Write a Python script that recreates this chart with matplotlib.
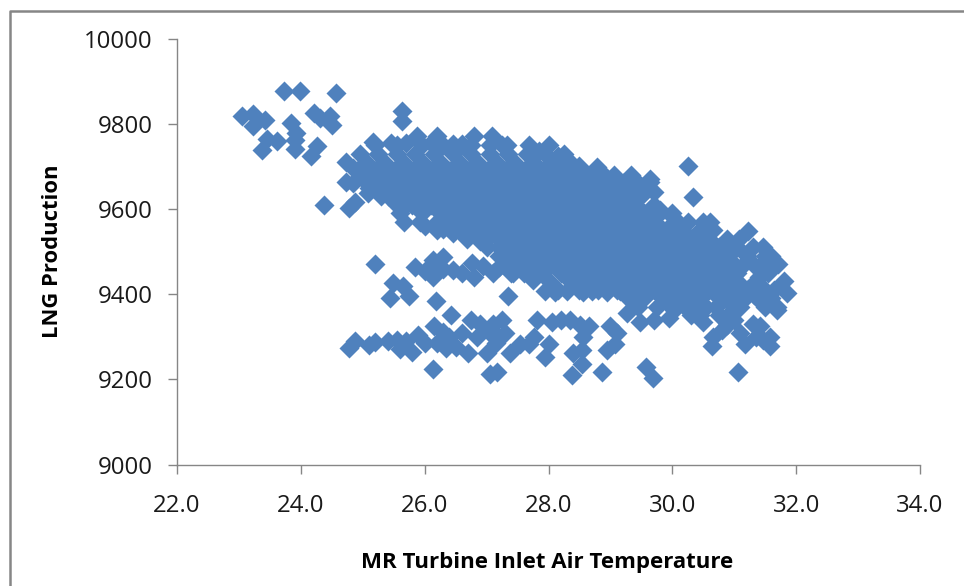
import matplotlib
matplotlib.use("Agg")
import matplotlib.pyplot as plt
from matplotlib.lines import Line2D

plt.rcParams['font.family'] = ['Open Sans', 'DejaVu Sans']

# points that can be read one by one
temp_single = [23.73, 23.99, 24.56, 23.05, 23.22, 23.42, 23.23, 23.46, 23.62, 23.38, 23.84, 23.93, 23.91, 23.91,
               24.26, 24.17, 24.22, 24.31, 24.47, 24.50, 25.64, 25.64, 24.73, 24.38, 24.77, 24.88,
               25.20, 25.84, 25.49, 25.65, 25.44, 25.75, 26.18, 26.43, 27.34, 26.14, 27.06, 27.17,
               30.26, 30.34, 31.23, 31.85, 31.06, 29.57, 29.68, 28.87, 28.38]
lng_single = [9877, 9877, 9871, 9818, 9822, 9809, 9795, 9763, 9760, 9738, 9802, 9777, 9762, 9741,
              9748, 9725, 9826, 9813, 9817, 9797, 9830, 9806, 9664, 9609, 9601, 9617,
              9471, 9463, 9425, 9419, 9392, 9396, 9384, 9351, 9396, 9224, 9213, 9216,
              9701, 9629, 9547, 9402, 9218, 9228, 9202, 9218, 9209]

# lower band, around 9300
temp_low = [24.77, 24.87, 25.1, 25.2, 25.4, 25.55, 25.6, 25.8, 25.7, 25.9, 26.0, 26.15, 26.2, 26.35, 26.4, 26.75,
            26.7, 26.85, 27.0, 26.6, 27.05, 27.25, 27.3, 27.15, 27.38, 26.5, 26.9, 27.1, 26.3, 27.2,
            27.54, 27.68, 27.76, 27.95, 28.0, 27.81, 28.05, 28.2, 28.35, 28.51, 28.65, 28.39, 28.54, 28.54, 28.56,
            29.0, 29.1, 29.08, 28.94, 29.26, 29.48, 29.7, 30.02, 30.5, 30.64, 30.66, 30.8, 30.88, 31.1, 31.17,
            31.42, 31.47, 31.58, 31.58, 31.69]
lng_low = [9273, 9291, 9281, 9288, 9290, 9292, 9270, 9265, 9290, 9305, 9285, 9325, 9285, 9273, 9300, 9340,
           9262, 9300, 9262, 9308, 9308, 9340, 9308, 9285, 9261, 9275, 9330, 9330, 9310, 9300,
           9284, 9284, 9300, 9253, 9284, 9339, 9335, 9340, 9339, 9327, 9324, 9261, 9237, 9269, 9300,
           9324, 9308, 9284, 9269, 9355, 9335, 9339, 9363, 9335, 9278, 9300, 9315, 9327, 9308, 9284,
           9324, 9292, 9277, 9300, 9363]

# middle band, left of the main cloud
temp_mid = [26.14, 26.3, 26.14, 26.46, 26.76, 26.79, 27.1, 27.43, 27.2, 27.54, 26.3, 26.6, 26.95, 27.28, 26.0]
lng_mid = [9441, 9488, 9480, 9457, 9472, 9441, 9449, 9449, 9464, 9464, 9460, 9450, 9465, 9470, 9455]

# main cloud: the inside is solid blue, so these are estimates per level
cloud_levels = [9770, 9750, 9730, 9710, 9690, 9670, 9650, 9630, 9610, 9590, 9570,
                9550, 9530, 9510, 9490, 9470, 9450, 9430, 9410, 9390, 9370]
cloud_temps = [
    [25.87, 26.2, 26.79, 27.08],
    [25.2, 25.55, 25.95, 26.3, 26.75, 27.05, 27.33, 27.69, 28.0],
    [24.95, 25.25, 25.55, 25.85, 26.15, 26.45, 26.75, 27.05, 27.35, 27.65, 27.95, 28.25],
    [24.73, 25.05, 25.35, 25.65, 25.95, 26.25, 26.55, 26.85, 27.15, 27.45, 27.75, 28.05, 28.35],
    [24.9, 25.2, 25.5, 25.8, 26.1, 26.4, 26.7, 27.0, 27.3, 27.6, 27.9, 28.2, 28.5, 28.78],
    [25.0, 25.35, 25.65, 25.95, 26.25, 26.55, 26.85, 27.15, 27.45, 27.75, 28.05, 28.35, 28.65, 28.95, 29.34, 29.64],
    [25.1, 25.5, 25.8, 26.1, 26.4, 26.7, 27.0, 27.3, 27.6, 27.9, 28.2, 28.5, 28.8, 29.1, 29.4, 29.6],
    [25.3, 25.65, 25.95, 26.25, 26.55, 26.85, 27.15, 27.45, 27.75, 28.05, 28.35, 28.65, 28.95, 29.25, 29.5],
    [25.7, 25.8, 26.1, 26.4, 26.7, 27.0, 27.3, 27.6, 27.9, 28.2, 28.5, 28.8, 29.1, 29.4, 29.7],
    [25.95, 26.25, 26.55, 26.85, 27.15, 27.45, 27.75, 28.05, 28.35, 28.65, 28.95, 29.25, 29.55, 29.8, 30.0],
    [25.66, 25.93, 26.2, 26.4, 26.7, 27.0, 27.3, 27.6, 27.9, 28.2, 28.5, 28.8, 29.1, 29.4, 29.7, 30.02, 30.26, 30.5],
    [26.2, 26.55, 26.85, 27.15, 27.45, 27.75, 28.05, 28.35, 28.65, 28.95, 29.25, 29.55, 29.85, 30.15, 30.45, 30.65],
    [26.68, 27.0, 27.3, 27.6, 27.9, 28.2, 28.5, 28.8, 29.1, 29.4, 29.7, 30.0, 30.3, 30.6, 30.88, 31.07],
    [27.0, 27.45, 27.75, 28.05, 28.35, 28.65, 28.95, 29.25, 29.55, 29.85, 30.15, 30.45, 30.75, 31.05, 31.31, 31.47],
    [27.6, 27.9, 28.2, 28.5, 28.8, 29.1, 29.4, 29.7, 30.0, 30.3, 30.6, 30.9, 31.2, 31.5, 31.6],
    [27.75, 28.05, 28.35, 28.65, 28.95, 29.25, 29.55, 29.85, 30.15, 30.45, 30.75, 31.0, 31.45, 31.71],
    [27.9, 28.2, 28.5, 28.8, 29.1, 29.4, 29.7, 30.0, 30.3, 30.6, 30.9, 31.05, 31.55],
    [28.0, 28.35, 28.65, 28.95, 29.25, 29.55, 29.85, 30.15, 30.45, 30.75, 31.05, 31.35, 31.8],
    [28.15, 28.5, 28.8, 29.1, 29.4, 29.7, 30.0, 30.3, 30.6, 30.9, 31.2, 31.5, 31.65],
    [29.3, 29.55, 29.85, 30.15, 30.45, 30.75, 31.05, 31.4, 31.6],
    [29.45, 29.75, 30.0, 30.3, 30.7, 31.0, 31.5, 31.69],
]

# points along the rim of the cloud, where the outline shows them
temp_rim = [25.17, 25.45, 25.7, 26.1, 26.45, 26.6, 27.25, 27.85, 28.15, 28.25, 28.5, 28.78, 28.6, 28.9, 29.05, 29.34,
            29.2, 29.45, 29.64, 29.7, 29.8, 30.02, 30.61,
            25.09, 24.85, 25.25, 25.4, 25.55, 25.6, 25.05, 24.85, 25.2, 26.0, 26.3, 26.46, 26.9,
            27.2, 27.3, 27.45, 27.6, 27.4, 27.75, 27.2, 27.95, 28.1, 28.3, 28.55, 28.7, 28.95, 29.15, 29.25,
            31.3, 31.4, 31.15, 31.3, 31.45, 30.9, 30.3, 29.95, 30.2, 30.45, 30.75, 31.0, 31.3, 31.35,
            27.3, 27.2, 30.8, 31.0, 31.15, 30.95, 31.2, 30.85, 31.1, 30.55, 30.25]
lng_rim = [9758, 9755, 9755, 9755, 9752, 9752, 9750, 9735, 9725, 9715, 9700, 9699, 9680, 9680, 9680, 9680,
           9660, 9660, 9664, 9640, 9597, 9578, 9570,
           9637, 9660, 9650, 9630, 9610, 9590, 9680, 9695, 9670, 9560, 9552, 9543, 9525,
           9510, 9490, 9470, 9450, 9450, 9432, 9490, 9408, 9405, 9408, 9405, 9408, 9405, 9408, 9395,
           9470, 9440, 9410, 9400, 9380, 9350, 9350, 9345, 9370, 9350, 9350, 9340, 9330, 9300,
           9510, 9530, 9470, 9460, 9470, 9420, 9395, 9390, 9370, 9370, 9390]

x_ticks = [22, 24, 26, 28, 30, 32, 34]
y_ticks = [9000, 9200, 9400, 9600, 9800, 10000]

fig = plt.figure(figsize=(9.64, 5.86), dpi=100)
ax = fig.add_axes([177/964, (586-464.5)/586, 743/964, 426/586])

marker_col = '#4F81BD'
ax.scatter(temp_single, lng_single, marker='D', s=104, color=marker_col, linewidths=0)
ax.scatter(temp_low, lng_low, marker='D', s=104, color=marker_col, linewidths=0)
ax.scatter(temp_mid, lng_mid, marker='D', s=104, color=marker_col, linewidths=0)
ax.scatter(temp_rim, lng_rim, marker='D', s=104, color=marker_col, linewidths=0)
for level, temps in zip(cloud_levels, cloud_temps):
    ax.scatter(temps, [level]*len(temps), marker='D', s=104, color=marker_col, linewidths=0)

ax.set_xlim(22, 34)
ax.set_ylim(9000, 10000)
ax.set_xticks(x_ticks)
ax.set_xticklabels(['%.1f' % t for t in x_ticks])
ax.set_yticks(y_ticks)

for side in ['top', 'right']:
    ax.spines[side].set_visible(False)
for side in ['left', 'bottom']:
    ax.spines[side].set_color('#868686')
    ax.spines[side].set_linewidth(1.0)
ax.tick_params(axis='both', length=6.5, width=1.0, color='#868686', labelsize=17.3, labelcolor='#1a1a1a')
ax.tick_params(axis='x', pad=15)
ax.tick_params(axis='y', pad=11)

ax.set_xlabel('MR Turbine Inlet Air Temperature', fontsize=16, fontweight='bold', va='center')
ax.set_ylabel('LNG Production', fontsize=15.8, fontweight='bold', va='center')
ax.xaxis.set_label_coords(0.498, -0.229)
ax.yaxis.set_label_coords(-0.167, 0.501)

# outer chart frame, cut off on the right and at the bottom
fig.add_artist(Line2D([9.5/964, 9.5/964, 1], [0, 1-10.5/586, 1-10.5/586], color='#868686', lw=1.8))

fig.savefig('out.png', dpi=100)
